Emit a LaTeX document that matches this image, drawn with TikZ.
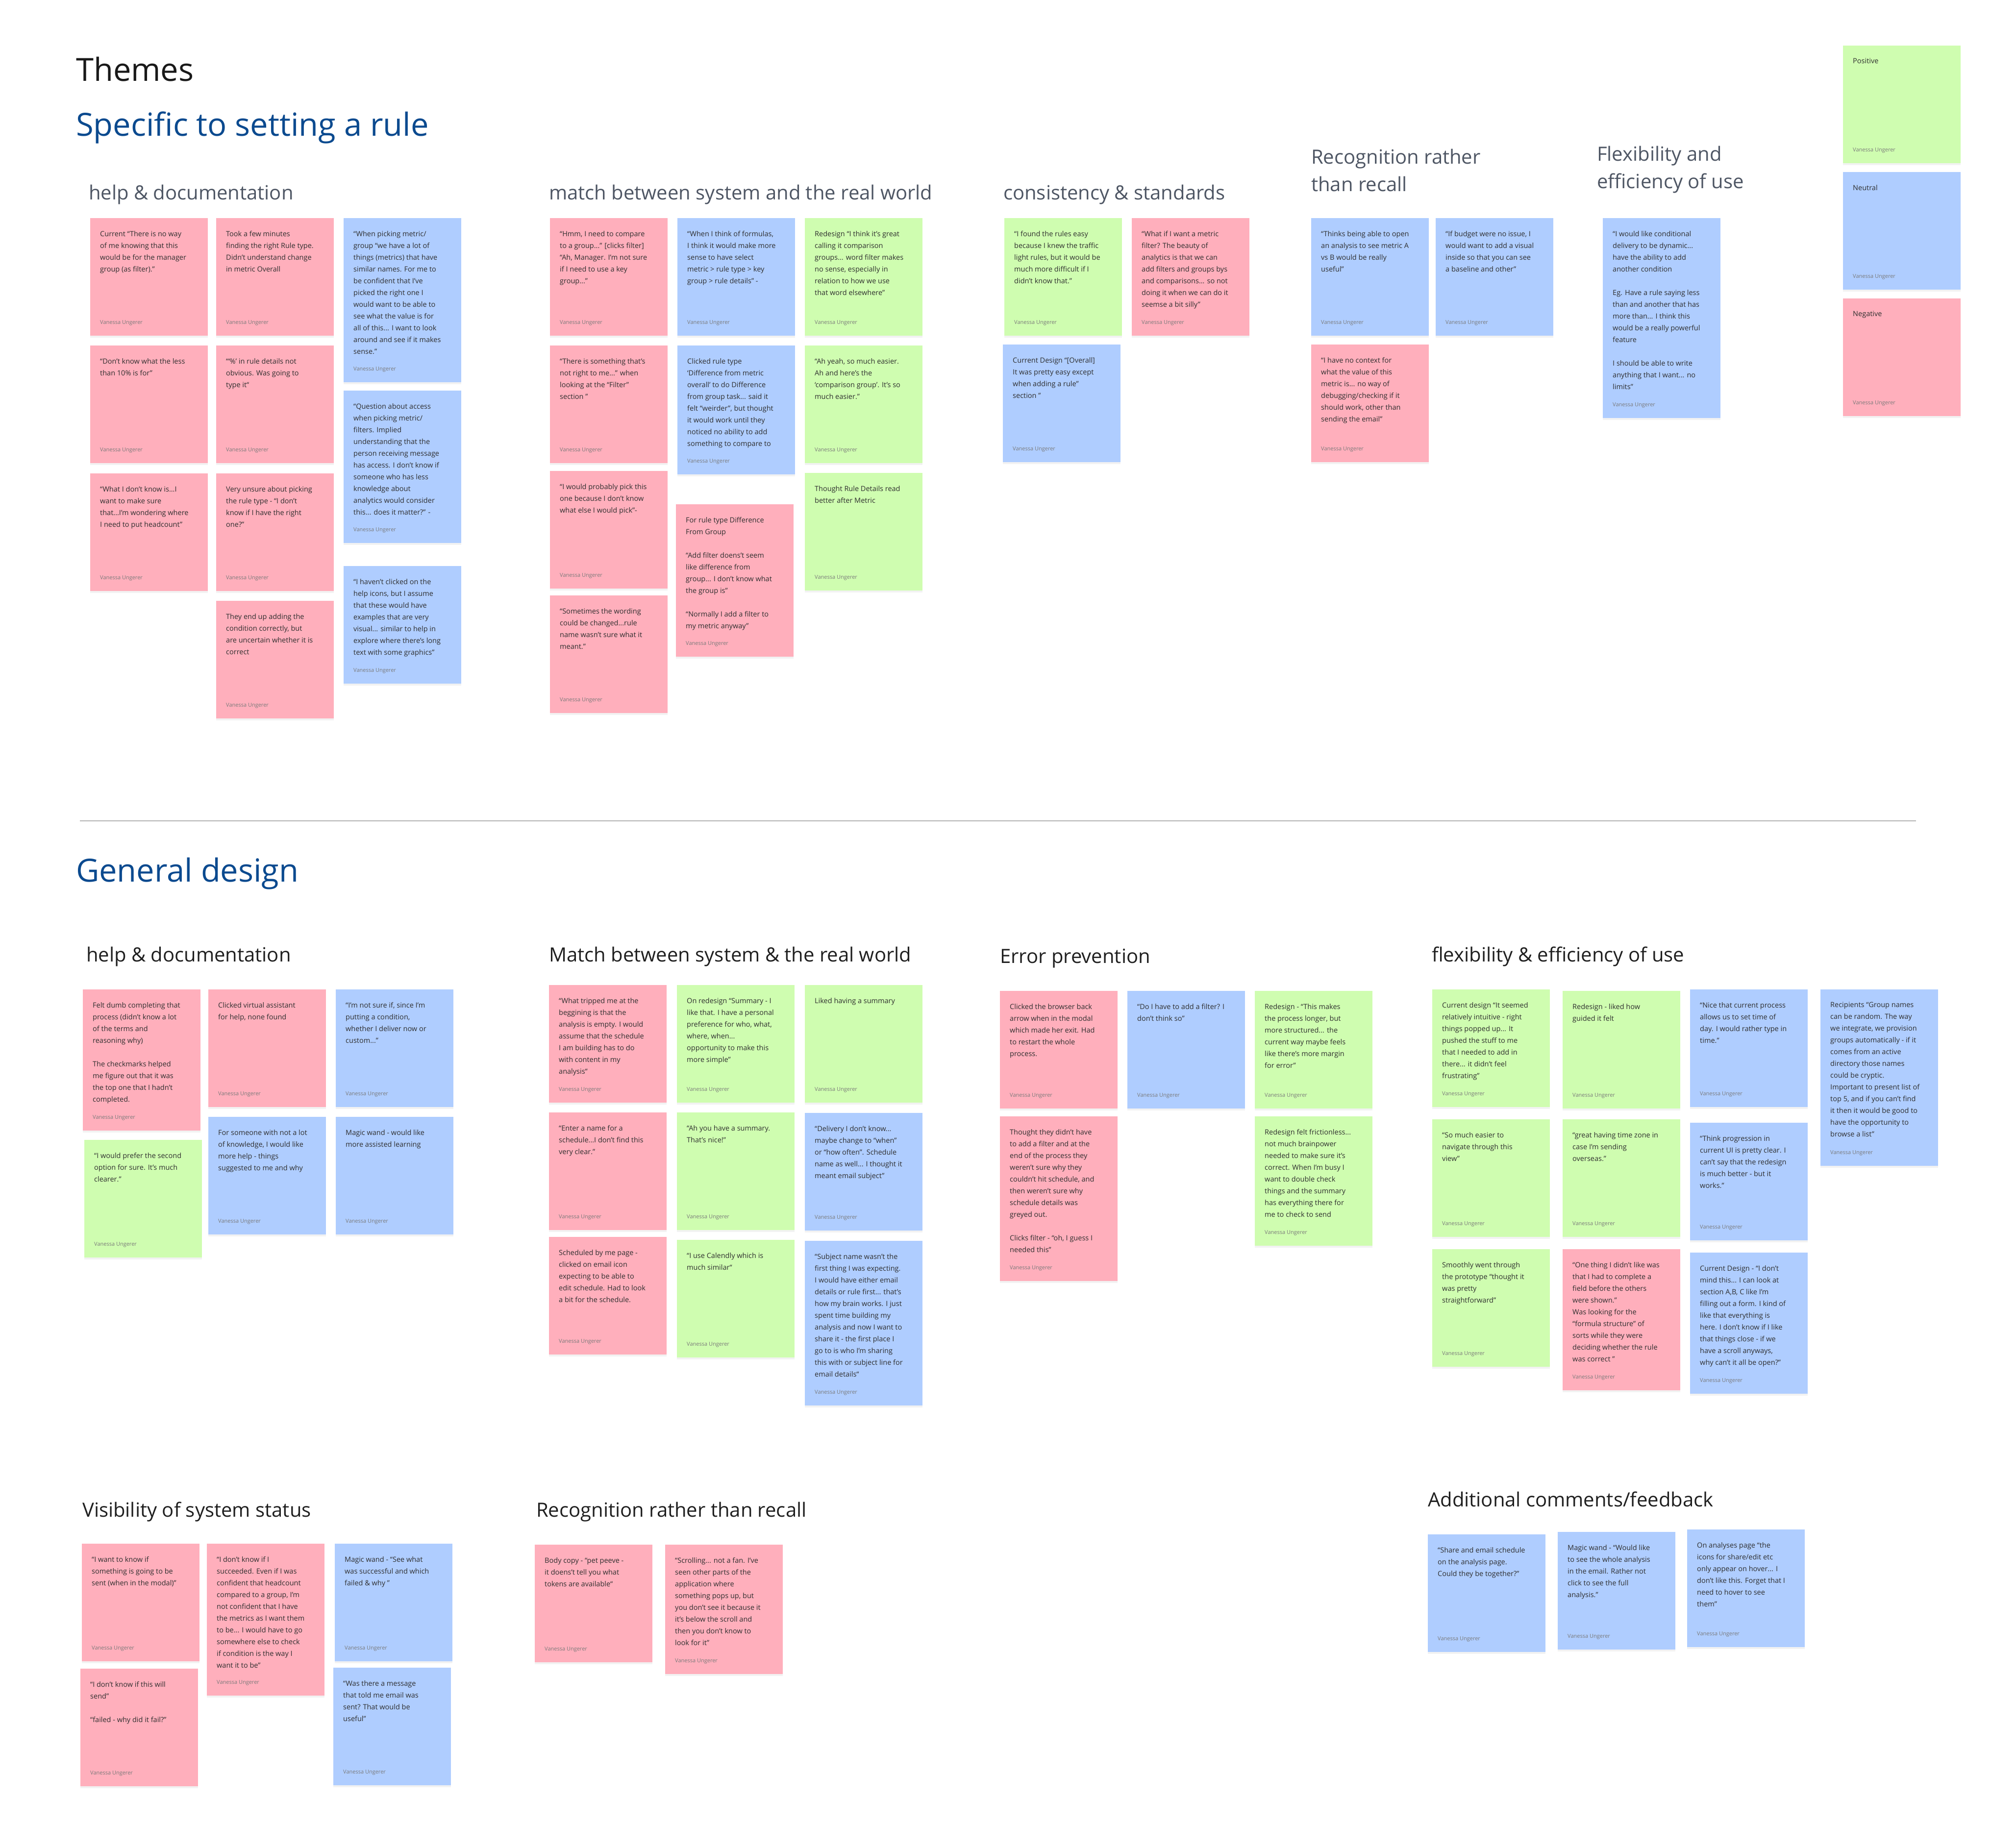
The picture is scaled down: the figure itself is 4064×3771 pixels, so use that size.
\documentclass[tikz,border=0pt]{standalone}
\usepackage{fontspec}
\setmainfont{Open Sans}
\usepackage{tikz}
\usetikzlibrary{shadows}

\definecolor{notepink}{HTML}{FFAFBC}
\definecolor{noteblue}{HTML}{AFCDFF}
\definecolor{notegreen}{HTML}{CFFDB0}
\definecolor{themeblue}{HTML}{0B4A8F}
\definecolor{topgray}{HTML}{4E5664}
\definecolor{inkgray}{HTML}{2E2E2E}
\definecolor{namegray}{HTML}{7A7A7A}

% one sticky: name, colour, left, top, height, text
\newcommand{\stickynote}[6]{%
  \node[sticky, fill=#2, minimum height=#5pt] (#1) at (#3,#4) {};
  \node[stickytext] (#1-txt) at ([shift={(20pt,-26pt)}]#1.north west) {#6};
  \node[stickyname] (#1-by) at ([shift={(20pt,24pt)}]#1.south west) {Vanessa Ungerer};
}

\begin{document}
\begin{tikzpicture}[x=1pt, y=-1pt,
    sticky/.style={anchor=north west, inner sep=0pt, minimum width=240pt,
      drop shadow={shadow xshift=0pt, shadow yshift=-4pt, opacity=0.10}},
    stickytext/.style={anchor=north west, inner sep=0pt, align=left, text=inkgray,
      font=\fontsize{14.5}{24}\selectfont},
    stickyname/.style={anchor=base west, inner sep=0pt, text=namegray,
      font=\fontsize{11}{13}\selectfont},
    bigtitle/.style={anchor=base west, inner sep=0pt, font=\fontsize{65}{72}\selectfont},
    toptitle/.style={anchor=base west, inner sep=0pt, text=topgray, align=left,
      font=\fontsize{40}{56}\selectfont},
    gentitle/.style={anchor=base west, inner sep=0pt, text=black!88,
      font=\fontsize{40}{56}\selectfont},
    divider/.style={draw=black!30, line width=2pt}]
    \useasboundingbox (0,0) rectangle (4064,3771);
    \fill[white] (0,0) rectangle (4064,3771);

    % Titles
    \node[bigtitle, text=black!90] (themes) at (155,165) {Themes};
    \node[bigtitle, text=themeblue] (specific) at (155,277) {Specific to setting a rule};

    % Legend
    \stickynote{pos}{notegreen}{3760}{93}{240}{Positive}
    \stickynote{neu}{noteblue}{3760}{351}{240}{Neutral}
    \stickynote{neg}{notepink}{3760}{609}{240}{Negative}

    % help & documentation (rule)
    \node[toptitle] (t-help) at (181,407) {help \& documentation};
    \stickynote{h1}{notepink}{184}{445}{240}{Current “There is no way\\of me knowing that this\\would be for the manager\\group (as filter).”}
    \stickynote{h2}{notepink}{184}{705}{240}{“Don’t know what the less\\than 10\% is for”}
    \stickynote{h3}{notepink}{184}{966}{240}{“What I don’t know is...I\\want to make sure\\that...I’m wondering where\\I need to put headcount”}
    \stickynote{h4}{notepink}{441}{445}{240}{Took a few minutes\\finding the right Rule type.\\Didn’t understand change\\in metric Overall}
    \stickynote{h5}{notepink}{441}{705}{240}{“‘\%’ in rule details not\\obvious. Was going to\\type it“}
    \stickynote{h6}{notepink}{441}{966}{240}{Very unsure about picking\\the rule type - “I don’t\\know if I have the right\\one?”}
    \stickynote{h7}{notepink}{441}{1226}{240}{They end up adding the\\condition correctly, but\\are uncertain whether it is\\correct}
    \stickynote{h8}{noteblue}{701}{445}{335}{“When picking metric/\\group “we have a lot of\\things (metrics) that have\\similar names. For me to\\be confident that I’ve\\picked the right one I\\would want to be able to\\see what the value is for\\all of this... I want to look\\around and see if it makes\\sense.”}
    \stickynote{h9}{noteblue}{701}{797}{311}{“Question about access\\when picking metric/\\filters. Implied\\understanding that the\\person receiving message\\has access. I don’t know if\\someone who has less\\knowledge about\\analytics would consider\\this... does it matter?” -}
    \stickynote{h10}{noteblue}{701}{1155}{240}{“I haven’t clicked on the\\help icons, but I assume\\that these would have\\examples that are very\\visual... similar to help in\\explore where there’s long\\text with some graphics”}

    % match between system and the real world (rule)
    \node[toptitle] (t-match) at (1120,407) {match between system and the real world};
    \stickynote{m1}{notepink}{1122}{445}{240}{“Hmm, I need to compare\\to a group...” [clicks filter]\\“Ah, Manager. I’m not sure\\if I need to use a key\\group...”}
    \stickynote{m2}{notepink}{1122}{705}{240}{“There is something that’s\\not right to me...” when\\looking at the “Filter”\\section ”}
    \stickynote{m3}{notepink}{1122}{961}{240}{“I would probably pick this\\one because I don’t know\\what else I would pick”-}
    \stickynote{m4}{notepink}{1122}{1215}{240}{“Sometimes the wording\\could be changed...rule\\name wasn’t sure what it\\meant.”}
    \stickynote{m5}{noteblue}{1382}{445}{240}{“When I think of formulas,\\I think it would make more\\sense to have select\\metric > rule type > key\\group > rule details” -}
    \stickynote{m6}{noteblue}{1382}{705}{263}{Clicked rule type\\‘Difference from metric\\overall’ to do Difference\\from group task... said it\\felt “weirder”, but thought\\it would work until they\\noticed no ability to add\\something to compare to}
    \stickynote{m7}{notepink}{1379}{1029}{311}{For rule type Difference\\From Group\\[24pt]“Add filter doens’t seem\\like difference from\\group... I don’t know what\\the group is”\\[24pt]“Normally I add a filter to\\my metric anyway”}
    \stickynote{m8}{notegreen}{1642}{445}{240}{Redesign “I think it’s great\\calling it comparison\\groups... word filter makes\\no sense, especially in\\relation to how we use\\that word elsewhere”}
    \stickynote{m9}{notegreen}{1642}{705}{240}{“Ah yeah, so much easier.\\Ah and here’s the\\‘comparison group’. It’s so\\much easier.”}
    \stickynote{m10}{notegreen}{1642}{965}{240}{Thought Rule Details read\\better after Metric}

    % consistency & standards
    \node[toptitle] (t-cons) at (2047,407) {consistency \& standards};
    \stickynote{c1}{notegreen}{2049}{445}{240}{“I found the rules easy\\because I knew the traffic\\light rules, but it would be\\much more difficult if I\\didn’t know that.”}
    \stickynote{c2}{notepink}{2309}{445}{240}{“What if I want a metric\\filter? The beauty of\\analytics is that we can\\add filters and groups bys\\and comparisons... so not\\doing it when we can do it\\seemse a bit silly”}
    \stickynote{c3}{noteblue}{2046}{703}{240}{Current Design “[Overall]\\It was pretty easy except\\when adding a rule”\\section ”}

    % Recognition rather than recall (rule)
    \node[toptitle] (t-recog) at (2675,390) {Recognition rather\\than recall};
    \stickynote{r1}{noteblue}{2675}{445}{240}{“Thinks being able to open\\an analysis to see metric A\\vs B would be really\\useful”}
    \stickynote{r2}{noteblue}{2929}{445}{240}{“If budget were no issue, I\\would want to add a visual\\inside so that you can see\\a baseline and other”}
    \stickynote{r3}{notepink}{2675}{703}{240}{“I have no context for\\what the value of this\\metric is... no way of\\debugging/checking if it\\should work, other than\\sending the email”}

    % Flexibility and efficiency of use (rule)
    \node[toptitle] (t-flex) at (3258,384) {Flexibility and\\efficiency of use};
    \stickynote{f1}{noteblue}{3270}{445}{408}{“I would like conditional\\delivery to be dynamic...\\have the ability to add\\another condition\\[24pt]Eg. Have a rule saying less\\than and another that has\\more than... I think this\\would be a really powerful\\feature\\[24pt]I should be able to write\\anything that I want... no\\limits”}

    % Divider
    \coordinate (rule-l) at (163,1675);
    \coordinate (rule-r) at (3909,1675);
    \draw[divider] (rule-l) -- (rule-r);

    \node[bigtitle, text=themeblue] (general) at (155,1799) {General design};

    % help & documentation (general)
    \node[gentitle] (g-help) at (176,1962) {help \& documentation};
    \stickynote{g1}{notepink}{169}{2019}{288}{Felt dumb completing that\\process (didn’t know a lot\\of the terms and\\reasoning why)\\[24pt]The checkmarks helped\\me figure out that it was\\the top one that I hadn’t\\completed.}
    \stickynote{g2}{notegreen}{172}{2326}{240}{“I would prefer the second\\option for sure. It’s much\\clearer.”}
    \stickynote{g3}{notepink}{425}{2019}{240}{Clicked virtual assistant\\for help, none found}
    \stickynote{g4}{noteblue}{425}{2279}{240}{For someone with not a lot\\of knowledge, I would like\\more help - things\\suggested to me and why}
    \stickynote{g5}{noteblue}{685}{2019}{240}{“I’m not sure if, since I’m\\putting a condition,\\whether I deliver now or\\custom...”}
    \stickynote{g6}{noteblue}{685}{2279}{240}{Magic wand - would like\\more assisted learning}

    % Match between system & the real world (general)
    \node[gentitle] (g-match) at (1120,1962) {Match between system \& the real world};
    \stickynote{gm1}{notepink}{1120}{2010}{240}{“What tripped me at the\\beggining is that the\\analysis is empty. I would\\assume that the schedule\\I am building has to do\\with content in my\\analysis“}
    \stickynote{gm2}{notepink}{1120}{2270}{240}{“Enter a name for a\\schedule...I don’t find this\\very clear.”}
    \stickynote{gm3}{notepink}{1120}{2524}{240}{Scheduled by me page -\\clicked on email icon\\expecting to be able to\\edit schedule. Had to look\\a bit for the schedule.}
    \stickynote{gm4}{notegreen}{1381}{2010}{240}{On redesign “Summary - I\\like that. I have a personal\\preference for who, what,\\where, when...\\opportunity to make this\\more simple”}
    \stickynote{gm5}{notegreen}{1381}{2270}{240}{“Ah you have a summary.\\That’s nice!”}
    \stickynote{gm6}{notegreen}{1381}{2530}{240}{“I use Calendly which is\\much similar“}
    \stickynote{gm7}{notegreen}{1642}{2010}{240}{Liked having a summary}
    \stickynote{gm8}{noteblue}{1642}{2271}{240}{“Delivery I don’t know...\\maybe change to “when”\\or “how often”. Schedule\\name as well... I thought it\\meant email subject”}
    \stickynote{gm9}{noteblue}{1642}{2532}{336}{“Subject name wasn’t the\\first thing I was expecting.\\I would have either email\\details or rule first... that’s\\how my brain works. I just\\spent time building my\\analysis and now I want to\\share it - the first place I\\go to is who I’m sharing\\this with or subject line for\\email details“}

    % Error prevention
    \node[gentitle] (g-error) at (2040,1965) {Error prevention};
    \stickynote{e1}{notepink}{2040}{2022}{240}{Clicked the browser back\\arrow when in the modal\\which made her exit. Had\\to restart the whole\\process.}
    \stickynote{e2}{notepink}{2040}{2278}{336}{Thought they didn’t have\\to add a filter and at the\\end of the process they\\weren’t sure why they\\couldn’t hit schedule, and\\then weren’t sure why\\schedule details was\\greyed out.\\[24pt]Clicks filter - “oh, I guess I\\needed this”}
    \stickynote{e3}{noteblue}{2300}{2022}{240}{“Do I have to add a filter? I\\don’t think so”}
    \stickynote{e4}{notegreen}{2560}{2022}{240}{Redesign - “This makes\\the process longer, but\\more structured... the\\current way maybe feels\\like there’s more margin\\for error”}
    \stickynote{e5}{notegreen}{2560}{2278}{264}{Redesign felt frictionless...\\not much brainpower\\needed to make sure it’s\\correct. When I’m busy I\\want to double check\\things and the summary\\has everything there for\\me to check to send}

    % flexibility & efficiency of use (general)
    \node[gentitle] (g-flex) at (2921,1962) {flexibility \& efficiency of use};
    \stickynote{x1}{notegreen}{2922}{2019}{240}{Current design “It seemed\\relatively intuitive - right\\things popped up... It\\pushed the stuff to me\\that I needed to add in\\there... it didn’t feel\\frustrating”}
    \stickynote{x2}{notegreen}{2922}{2284}{240}{“So much easier to\\navigate through this\\view”}
    \stickynote{x3}{notegreen}{2922}{2549}{240}{Smoothly went through\\the prototype “thought it\\was pretty\\straightforward”}
    \stickynote{x4}{notegreen}{3188}{2022}{240}{Redesign - liked how\\guided it felt}
    \stickynote{x5}{notegreen}{3188}{2284}{240}{“great having time zone in\\case I’m sending\\overseas.”}
    \stickynote{x6}{notepink}{3188}{2549}{288}{“One thing I didn’t like was\\that I had to complete a\\field before the others\\were shown.”\\Was looking for the\\“formula structure” of\\sorts while they were\\deciding whether the rule\\was correct ”}
    \stickynote{x7}{noteblue}{3448}{2019}{240}{“Nice that current process\\allows us to set time of\\day. I would rather type in\\time.”}
    \stickynote{x8}{noteblue}{3448}{2291}{240}{“Think progression in\\current UI is pretty clear. I\\can’t say that the redesign\\is much better - but it\\works.”}
    \stickynote{x9}{noteblue}{3448}{2556}{288}{Current Design - “I don’t\\mind this... I can look at\\section A,B, C like I’m\\filling out a form. I kind of\\like that everything is\\here. I don’t know if I like\\that things close - if we\\have a scroll anyways,\\why can’t it all be open?”}
    \stickynote{x10}{noteblue}{3714}{2019}{360}{Recipients “Group names\\can be random. The way\\we integrate, we provision\\groups automatically - if it\\comes from an active\\directory those names\\could be cryptic.\\Important to present list of\\top 5, and if you can’t find\\it then it would be good to\\have the opportunity to\\browse a list”}

    % Visibility of system status
    \node[gentitle] (g-vis) at (168,3095) {Visibility of system status};
    \stickynote{v1}{notepink}{167}{3150}{240}{“I want to know if\\something is going to be\\sent (when in the modal)”}
    \stickynote{v2}{notepink}{164}{3405}{240}{“I don’t know if this will\\send”\\[24pt]“failed - why did it fail?”}
    \stickynote{v3}{notepink}{422}{3150}{310}{“I don’t know if I\\succeeded. Even if I was\\confident that headcount\\compared to a group, I’m\\not confident that I have\\the metrics as I want them\\to be... I would have to go\\somewhere else to check\\if condition is the way I\\want it to be”}
    \stickynote{v4}{noteblue}{683}{3150}{240}{Magic wand - “See what\\was successful and which\\failed \& why ”}
    \stickynote{v5}{noteblue}{680}{3403}{240}{“Was there a message\\that told me email was\\sent? That would be\\useful”}

    % Recognition rather than recall (general)
    \node[gentitle] (g-recog) at (1094,3095) {Recognition rather than recall};
    \stickynote{rr1}{notepink}{1091}{3152}{240}{Body copy - “pet peeve -\\it doens’t tell you what\\tokens are available“}
    \stickynote{rr2}{notepink}{1357}{3152}{264}{“Scrolling... not a fan. I’ve\\seen other parts of the\\application where\\something pops up, but\\you don’t see it because it\\it’s below the scroll and\\then you don’t know to\\look for it”}

    % Additional comments/feedback
    \node[gentitle] (g-add) at (2913,3074) {Additional comments/feedback};
    \stickynote{a1}{noteblue}{2913}{3131}{240}{“Share and email schedule\\on the analysis page.\\Could they be together?”}
    \stickynote{a2}{noteblue}{3178}{3126}{240}{Magic wand - “Would like\\to see the whole analysis\\in the email. Rather not\\click to see the full\\analysis.”}
    \stickynote{a3}{noteblue}{3442}{3121}{240}{On analyses page “the\\icons for share/edit etc\\only appear on hover... I\\don’t like this. Forget that I\\need to hover to see\\them”}
\end{tikzpicture}
\end{document}
